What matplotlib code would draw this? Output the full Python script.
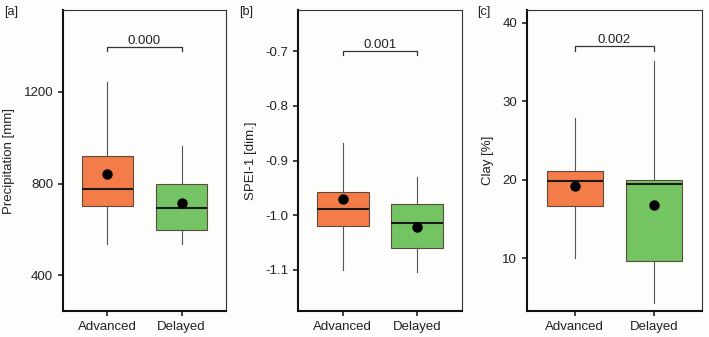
import matplotlib
matplotlib.use("Agg")
import matplotlib.pyplot as plt

plt.rcParams['font.family'] = ['Liberation Sans', 'DejaVu Sans']

groups = ["Advanced", "Delayed"]
colors = ["#F47C48", "#74C464"]

# Panel a: Precipitation [mm]
prec_q1 = [702, 597]
prec_med = [778, 694]
prec_q3 = [921, 799]
prec_lo = [536, 536]
prec_hi = [1245, 963]
prec_mean = [842, 717]

# Panel b: SPEI-1 [dim.]
spei_q1 = [-1.020, -1.059]
spei_med = [-0.989, -1.014]
spei_q3 = [-0.958, -0.980]
spei_lo = [-1.100, -1.104]
spei_hi = [-0.868, -0.931]
spei_mean = [-0.971, -1.021]

# Panel c: Clay [%]
clay_q1 = [16.7, 9.7]
clay_med = [19.9, 19.5]
clay_q3 = [21.1, 20.0]
clay_lo = [10.0, 4.3]
clay_hi = [27.8, 35.1]
clay_mean = [19.2, 16.8]

p_values = ["0.000", "0.001", "0.002"]
bracket_top = [1398, -0.700, 37.0]
bracket_end = [1380, -0.708, 36.4]

panels = [
    dict(tag="[a]", ylabel="Precipitation [mm]", q1=prec_q1, med=prec_med, q3=prec_q3,
         lo=prec_lo, hi=prec_hi, mean=prec_mean, ylim=(243, 1558), yticks=[400, 800, 1200],
         fmt="{:.0f}"),
    dict(tag="[b]", ylabel="SPEI-1 [dim.]", q1=spei_q1, med=spei_med, q3=spei_q3,
         lo=spei_lo, hi=spei_hi, mean=spei_mean, ylim=(-1.175, -0.625),
         yticks=[-1.1, -1.0, -0.9, -0.8, -0.7], fmt="{:.1f}"),
    dict(tag="[c]", ylabel="Clay [%]", q1=clay_q1, med=clay_med, q3=clay_q3,
         lo=clay_lo, hi=clay_hi, mean=clay_mean, ylim=(3.3, 41.6), yticks=[10, 20, 30, 40],
         fmt="{:.0f}"),
]

W, H = 709, 337
fig = plt.figure(figsize=(W / 100, H / 100), dpi=100, facecolor="#fdfdfb")

axes_px = [(63, 226), (298, 462), (527, 702)]
tag_x = [4, 239, 477]
top_px, bot_px = 10, 311

for i, p in enumerate(panels):
    x0, x1 = axes_px[i]
    ax = fig.add_axes([x0 / W, (H - bot_px) / H, (x1 - x0) / W, (bot_px - top_px) / H])
    ax.set_facecolor("#fdfdfb")
    stats = []
    for j in range(2):
        stats.append(dict(med=p["med"][j], q1=p["q1"][j], q3=p["q3"][j],
                          whislo=p["lo"][j], whishi=p["hi"][j], mean=p["mean"][j],
                          fliers=[], label=groups[j]))
    bp = ax.bxp(stats, positions=[1, 2], widths=0.7, patch_artist=True, showmeans=True,
                showcaps=False, showfliers=False,
                boxprops=dict(edgecolor="#5a4a40", linewidth=0.8),
                whiskerprops=dict(color="#555555", linewidth=0.8),
                medianprops=dict(color="#1a1a1a", linewidth=1.5),
                meanprops=dict(marker="o", markerfacecolor="black", markeredgecolor="black",
                               markersize=6.5))
    for patch, c in zip(bp["boxes"], colors):
        patch.set_facecolor(c)
    # bracket
    ax.plot([1, 1, 2, 2], [bracket_end[i], bracket_top[i], bracket_top[i], bracket_end[i]],
            color="#333333", linewidth=0.9)
    ax.text(1.5, bracket_top[i], p_values[i], ha="center", va="bottom", fontsize=9.5,
            color="#222222")
    ax.set_xlim(0.4, 2.6)
    ax.set_ylim(*p["ylim"])
    ax.set_yticks(p["yticks"])
    ax.set_yticklabels([p["fmt"].format(v) for v in p["yticks"]])
    ax.set_xticks([1, 2])
    ax.set_xticklabels(groups)
    ax.tick_params(axis="both", labelsize=9.5, labelcolor="#222222", color="#222222",
                   length=3.5, width=1.2, direction="out")
    ax.set_ylabel(p["ylabel"], fontsize=9.5, color="#222222", labelpad=6)
    for s in ["left", "bottom"]:
        ax.spines[s].set_linewidth(1.5)
        ax.spines[s].set_color("#111111")
    for s in ["top", "right"]:
        ax.spines[s].set_linewidth(0.8)
        ax.spines[s].set_color("#333333")
    fig.text(tag_x[i] / W, 1 - 12 / H, p["tag"], fontsize=9, color="#222222",
             ha="left", va="center")

fig.savefig("out.png", dpi=100, facecolor=fig.get_facecolor())
